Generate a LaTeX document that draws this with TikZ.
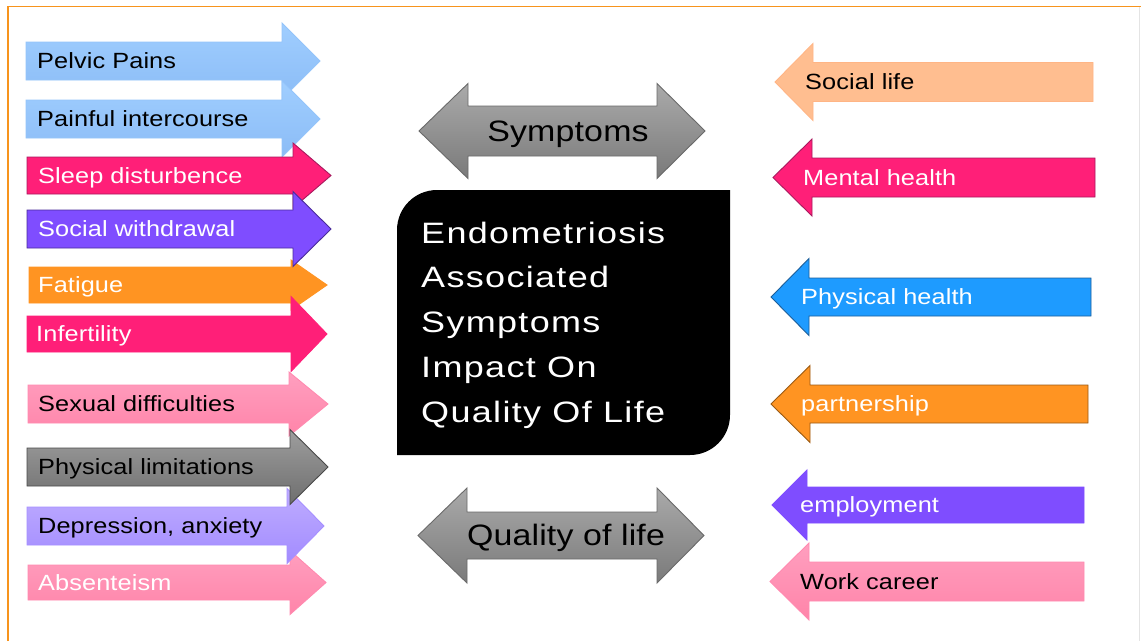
\documentclass[tikz,border=0pt]{standalone}
\usepackage{fontspec}
\setmainfont{Liberation Sans}[FakeStretch=1.15,LetterSpace=0.5]
\newfontfamily\corefont{Liberation Sans}[FakeStretch=1.22,LetterSpace=4.5]

% palette
\definecolor{frameOrange}{HTML}{F7941D}
\definecolor{frameGrey}{HTML}{E4E4E4}
\definecolor{skyTop}{HTML}{A0CEFF}
\definecolor{skyBot}{HTML}{8BBCF6}
\definecolor{skyEdge}{HTML}{94C4FA}
\definecolor{magFill}{HTML}{FF1F78}
\definecolor{magEdge}{HTML}{A8195E}
\definecolor{vioFill}{HTML}{7F4DFF}
\definecolor{vioEdge}{HTML}{4A2C9A}
\definecolor{oraFill}{HTML}{FF9422}
\definecolor{oraEdge}{HTML}{9A5A14}
\definecolor{roseTop}{HTML}{FF9FBF}
\definecolor{roseBot}{HTML}{FF84A9}
\definecolor{roseEdge}{HTML}{FF8AB0}
\definecolor{grTop}{HTML}{9E9E9E}
\definecolor{grBot}{HTML}{6E6E6E}
\definecolor{grEdge}{HTML}{4A4A4A}
\definecolor{lavTop}{HTML}{BFADFF}
\definecolor{lavBot}{HTML}{A28BFF}
\definecolor{lavEdge}{HTML}{A690FF}
\definecolor{peachFill}{HTML}{FFBE90}
\definecolor{peachEdge}{HTML}{FFB585}
\definecolor{bluFill}{HTML}{1E9BFF}
\definecolor{bluEdge}{HTML}{1B5E9A}
\definecolor{dgTop}{HTML}{AAAAAA}
\definecolor{dgBot}{HTML}{7A7A7A}
\definecolor{dgEdge}{HTML}{6A6A6A}

% right-pointing block: style, left x, head base x, tip x, mid y, half shaft, half head
\newcommand{\blockRight}[7]{%
  \path[#1] ({#2},{#5-#6}) -- ({#3},{#5-#6}) -- ({#3},{#5-#7}) -- ({#4},{#5})
    -- ({#3},{#5+#7}) -- ({#3},{#5+#6}) -- ({#2},{#5+#6}) -- cycle;}
% left-pointing block: style, tip x, head base x, right x, mid y, half shaft, half head
\newcommand{\blockLeft}[7]{%
  \path[#1] ({#2},{#5}) -- ({#3},{#5-#7}) -- ({#3},{#5-#6}) -- ({#4},{#5-#6})
    -- ({#4},{#5+#6}) -- ({#3},{#5+#6}) -- ({#3},{#5+#7}) -- cycle;}
% two-headed block: style, left tip, left base, right base, right tip, mid y, half shaft, half head
\newcommand{\blockBoth}[8]{%
  \path[#1] ({#2},{#6}) -- ({#3},{#6-#8}) -- ({#3},{#6-#7}) -- ({#4},{#6-#7})
    -- ({#4},{#6-#8}) -- ({#5},{#6}) -- ({#4},{#6+#8}) -- ({#4},{#6+#7})
    -- ({#3},{#6+#7}) -- ({#3},{#6+#8}) -- cycle;}

\begin{document}
\begin{tikzpicture}[x=1pt,y=-1pt,
  blockform/.style={line width=0.9pt,line join=miter},
  fsky/.style={blockform,draw=skyEdge,top color=skyTop,bottom color=skyBot},
  fmag/.style={blockform,draw=magEdge,fill=magFill},
  fmagsoft/.style={blockform,draw=magFill,fill=magFill},
  fvio/.style={blockform,draw=vioEdge,fill=vioFill},
  fviosoft/.style={blockform,draw=vioFill,fill=vioFill},
  fora/.style={blockform,draw=oraFill,fill=oraFill},
  foradark/.style={blockform,draw=oraEdge,fill=oraFill},
  frose/.style={blockform,draw=roseEdge,top color=roseTop,bottom color=roseBot},
  fgrey/.style={blockform,draw=grEdge,top color=grTop,bottom color=grBot},
  flav/.style={blockform,draw=lavEdge,top color=lavTop,bottom color=lavBot},
  fpeach/.style={blockform,draw=peachEdge,fill=peachFill},
  fblue/.style={blockform,draw=bluEdge,fill=bluFill},
  fdouble/.style={blockform,draw=dgEdge,top color=dgTop,bottom color=dgBot},
  lbl/.style={anchor=base west,inner sep=0pt,font=\fontsize{22}{26}\selectfont},
  dark/.style={text=black},
  light/.style={text=white},
  midlbl/.style={anchor=base,inner sep=0pt,font=\fontsize{29.5}{34}\selectfont,text=black},
  corelbl/.style={anchor=base west,inner sep=0pt,font=\corefont\fontsize{29.5}{34}\selectfont,text=white}
]
\useasboundingbox (0,0) rectangle (1141,641);
\fill[white] (0,0) rectangle (1141,641);

% frame
\draw[frameGrey,line width=1pt] (1139.5,6) -- (1139.5,641);
\draw[frameOrange,line width=1.6pt] (8,641) -- (8,6.5) -- (1141,6.5);

% left column of symptom arrows
\blockRight{fsky}{26}{282}{320}{61}{19}{38}
\blockRight{fsky}{26}{282}{320}{119}{19}{38}
\blockRight{fmag}{27}{293}{331}{175.5}{18.5}{32.5}
\blockRight{fora}{29}{291}{327}{285}{18}{25}
\blockRight{fvio}{27}{293}{331}{229}{19}{37.5}
\blockRight{fmagsoft}{27}{291}{327}{334}{18}{37.5}
\blockRight{frose}{28}{289}{328}{404}{19}{32}
\blockRight{frose}{28}{290}{326}{582.5}{17.5}{32}
\blockRight{flav}{27}{287}{324}{526}{19}{37.5}
\blockRight{fgrey}{27}{290}{328}{467}{19}{37.5}

\node[lbl,dark]  (pelvic)   at (37,68.9)  {Pelvic Pains};
\node[lbl,dark]  (painful)  at (37,126.9) {Painful intercourse};
\node[lbl,light] (sleep)    at (38,183.4) {Sleep disturbence};
\node[lbl,light] (withdraw) at (38,236.9) {Social withdrawal};
\node[lbl,light] (fatigue)  at (38,292.9) {Fatigue};
\node[lbl,light] (infert)   at (36,341.9) {Infertility};
\node[lbl,dark]  (sexual)   at (38,411.9) {Sexual difficulties};
\node[lbl,dark]  (physlim)  at (38,474.9) {Physical limitations};
\node[lbl,dark]  (depress)  at (38,533.9) {Depression, anxiety};
\node[lbl,light] (absent)   at (38,590.4) {Absenteism};

% right column of life-area arrows
\blockLeft{fpeach}{775}{813}{1093}{82}{19.5}{38.5}
\blockLeft{fmag}{773}{812}{1095}{177.5}{19.5}{38.5}
\blockLeft{fblue}{771}{809}{1091}{297}{19}{38.5}
\blockLeft{foradark}{771}{810}{1088}{404}{19}{38.5}
\blockLeft{fviosoft}{772}{807}{1084}{505}{18}{35}
\blockLeft{frose}{770}{809}{1084}{581.5}{19.5}{38.5}

\node[lbl,dark]  (social)  at (805,89.9)  {Social life};
\node[lbl,light] (mental)  at (803,185.4) {Mental health};
\node[lbl,light] (physh)   at (801,304.9) {Physical health};
\node[lbl,light] (partner) at (801,411.9) {partnership};
\node[lbl,light] (employ)  at (800,512.9) {employment};
\node[lbl,dark]  (career)  at (800,589.4) {Work career};

% two-headed arrows in the middle
\blockBoth{fdouble}{419}{468}{657}{705}{131}{25}{47.5}
\blockBoth{fdouble}{418}{467}{657}{704}{535.5}{23.5}{47.5}
\node[midlbl] (symptoms) at (568,141.7) {Symptoms};
\node[midlbl] (quality)  at (566,545)   {Quality of life};

% central black panel with two rounded corners
\fill[black] (397,455) -- (397,230)
  .. controls (397,207.9) and (414.9,190) .. (437,190)
  -- (730,190) -- (730,415)
  .. controls (730,437.1) and (712.1,455) .. (690,455) -- cycle;
\node[corelbl] (core1) at (421,243)    {Endometriosis};
\node[corelbl] (core2) at (421,287.75) {Associated};
\node[corelbl] (core3) at (421,332.5)  {Symptoms};
\node[corelbl] (core4) at (421,377.25) {Impact On};
\node[corelbl] (core5) at (421,422)    {Quality Of Life};
\end{tikzpicture}
\end{document}
